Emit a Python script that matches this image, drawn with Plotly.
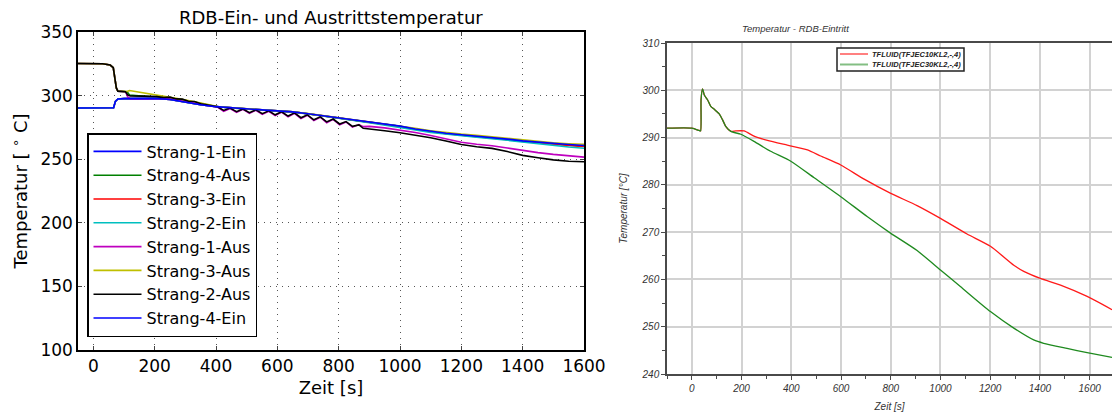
import plotly.graph_objects as go

# ---------------- left panel: RDB inlet / outlet temperatures ----------------
t_ein = [-50, 60, 66, 72, 80, 100, 150, 200, 250, 300, 350, 400, 450, 500, 550,
         600, 650, 700, 750, 800, 850, 900, 950, 1000, 1050, 1100, 1150, 1200,
         1250, 1300, 1350, 1400, 1450, 1500, 1550, 1600]

strang4_ein = [290.3, 290.1, 290.4, 295.5, 297.3, 297.6, 297.8, 297.8, 296.9, 294.8,
               292.8, 291.3, 290.3, 289.6, 288.8, 288.0, 287.2, 285.7, 284.1, 282.4,
               280.8, 279.2, 277.7, 276.0, 273.8, 271.8, 270.4, 269.2, 268.2, 267.1,
               265.8, 264.4, 263.3, 262.4, 261.6, 260.8]
strang1_ein = [290.3, 290.1, 290.4, 295.5, 297.3, 297.6, 297.8, 297.8, 296.9, 294.8,
               292.8, 291.3, 290.3, 289.6, 288.8, 288.0, 287.2, 285.7, 284.1, 282.4,
               280.7, 279.0, 277.5, 275.8, 273.6, 271.6, 270.2, 269.0, 268.0, 266.9,
               265.6, 264.2, 263.1, 262.1, 261.2, 260.4]
strang3_ein = [290.3, 290.1, 290.4, 295.5, 297.3, 297.6, 297.8, 297.8, 296.9, 294.8,
               292.8, 291.3, 290.3, 289.6, 288.8, 288.0, 287.2, 285.7, 284.1, 282.4,
               280.7, 279.0, 277.4, 275.7, 273.5, 271.5, 270.0, 268.8, 267.8, 266.7,
               265.4, 264.0, 262.8, 261.8, 260.9, 260.0]
strang2_ein = [290.3, 290.1, 290.4, 295.5, 297.3, 297.6, 297.8, 297.8, 296.9, 294.8,
               292.8, 291.3, 290.3, 289.6, 288.8, 288.0, 287.2, 285.7, 284.1, 282.4,
               280.5, 278.7, 277.0, 275.2, 273.0, 271.0, 269.6, 268.4, 267.3, 266.2,
               264.8, 263.4, 262.0, 260.8, 259.6, 258.6]

t_aus = [-50, 30, 55, 65, 70, 75, 80, 110, 118, 175, 217, 270, 327, 405, 450, 500,
         550, 600, 650, 700, 750, 800, 850, 900, 950, 1000, 1050, 1100, 1150, 1200,
         1250, 1300, 1350, 1400, 1450, 1500, 1550, 1600]
strang3_aus = [325.2, 325.0, 324.0, 322.0, 314.0, 306.0, 303.5, 303.2, 304.0, 301.8,
               300.0, 297.8, 295.3, 291.4, 290.4, 289.7, 288.9, 288.1, 287.3, 285.8,
               284.2, 282.5, 280.9, 279.4, 278.0, 276.4, 274.3, 272.3, 270.9, 269.7,
               268.7, 267.6, 266.3, 264.9, 263.8, 262.9, 262.2, 261.7]
strang4_aus = [325.2, 325.0, 324.0, 322.0, 314.0, 306.0, 303.5, 303.0, 300.5, 299.5,
               299.0, 297.5, 295.0, 291.2, 290.2, 289.5, 288.7, 287.9, 287.1, 285.6,
               284.0, 282.3, 280.6, 279.0, 277.5, 275.8, 273.6, 271.6, 270.2, 269.0,
               268.0, 266.9, 265.5, 264.1, 263.0, 262.0, 261.0, 260.2]

t_osc = [-50, 30, 55, 65, 70, 75, 80, 105, 112, 120, 160, 208, 230, 250, 270, 290,
         310, 330, 350, 370, 390, 405, 425, 446, 467, 488, 509, 530, 551, 572, 593,
         614, 635, 656, 677, 698, 719, 740, 761, 782, 803, 824, 845, 866, 880, 900,
         950, 1000, 1050, 1100, 1150, 1200, 1250, 1300, 1350, 1400, 1450, 1500,
         1550, 1600]
strang2_aus = [325.2, 325.0, 324.0, 322.0, 314.0, 306.0, 303.5, 303.0, 300.5, 299.8,
               299.6, 299.2, 298.4, 298.8, 297.4, 297.2, 295.6, 295.4, 293.6, 292.8,
               291.6, 291.2, 288.3, 290.2, 287.4, 289.5, 286.6, 288.8, 285.8, 288.0,
               284.9, 287.3, 283.9, 286.4, 282.6, 284.9, 281.0, 283.3, 279.3, 281.6,
               277.7, 279.6, 275.8, 277.0, 274.3, 273.6, 272.3, 270.8, 269.0, 266.8,
               264.3, 261.5, 259.8, 258.5, 256.0, 253.0, 251.2, 249.5, 248.4, 248.0]
strang1_aus = [325.2, 325.0, 324.0, 322.0, 314.0, 306.0, 303.5, 303.0, 299.0, 297.4,
               297.3, 297.8, 297.6, 297.6, 296.8, 296.5, 295.2, 294.6, 293.3, 292.4,
               291.4, 291.0, 287.7, 289.9, 286.8, 289.2, 286.0, 288.5, 285.2, 287.7,
               284.3, 287.0, 283.3, 286.1, 282.0, 284.6, 280.4, 283.0, 278.7, 281.3,
               277.1, 279.3, 275.2, 277.2, 275.6, 275.8, 274.6, 273.0, 271.0, 268.6,
               266.0, 263.3, 261.8, 260.6, 258.8, 256.8, 255.2, 253.8, 252.6, 251.6]

# plotting order: last drawn ends up on top
left_series = [
    ("Strang-1-Ein", t_ein, strang1_ein, "#0000ff"),
    ("Strang-4-Aus", t_aus, strang4_aus, "#008000"),
    ("Strang-3-Ein", t_ein, strang3_ein, "#ff0000"),
    ("Strang-2-Ein", t_ein, strang2_ein, "#00bfbf"),
    ("Strang-1-Aus", t_osc, strang1_aus, "#bf00bf"),
    ("Strang-3-Aus", t_aus, strang3_aus, "#bfbf00"),
    ("Strang-2-Aus", t_osc, strang2_aus, "#000000"),
    ("Strang-4-Ein", t_ein, strang4_ein, "#0000ff"),
]

# ---------------- right panel: RDB inlet, two cases ----------------
t_kl10 = [-100, 0, 29, 35, 37, 43, 50, 63, 76, 90, 110, 123, 137, 157, 177, 210,
          250, 304, 384, 465, 518, 599, 693, 800, 906, 1000, 1107, 1201, 1295,
          1335, 1402, 1483, 1590, 1690]
tfluid_kl10 = [292.0, 292.0, 291.5, 291.4, 298.0, 300.3, 299.0, 298.0, 296.6, 296.0,
               295.0, 293.8, 292.3, 291.3, 291.4, 291.4, 290.3, 289.4, 288.4, 287.4,
               286.1, 284.2, 281.2, 278.2, 275.6, 272.9, 269.6, 267.0, 263.0, 261.7,
               260.2, 258.8, 256.4, 253.6]
t_kl30 = [-100, 0, 29, 35, 37, 43, 50, 63, 76, 90, 110, 123, 137, 157, 197, 250,
          317, 398, 492, 599, 705, 799, 906, 1000, 1080, 1201, 1295, 1375, 1415,
          1509, 1590, 1690]
tfluid_kl30 = [292.0, 292.0, 291.5, 291.4, 298.0, 300.3, 299.0, 298.0, 296.6, 296.0,
               295.0, 293.8, 292.3, 291.3, 290.7, 289.2, 287.1, 285.0, 281.5, 277.5,
               273.3, 269.8, 266.1, 262.0, 258.5, 253.2, 249.7, 247.2, 246.5, 245.4,
               244.5, 243.5]

right_series = [
    ("TFLUID(TFJEC10KL2,-,4)", t_kl10, tfluid_kl10, "#ff1a1a"),
    ("TFLUID(TFJEC30KL2,-,4)", t_kl30, tfluid_kl30, "#1f8a1f"),
]

W, H = 1112, 414
MPL_FONT = "DejaVu Sans"
WIN_FONT = "Liberation Sans"

fig = go.Figure()

for i, (name, t, v, col) in enumerate(left_series):
    fig.add_trace(go.Scatter(
        x=t, y=v, mode="lines", name=name, legendgroup=f"g{i}",
        line=dict(color=col, width=1.6), xaxis="x", yaxis="y",
    ))

for name, t, v, col in right_series:
    fig.add_trace(go.Scatter(
        x=t, y=v, mode="lines", name=name, showlegend=False,
        line=dict(color=col, width=1.3, shape="spline", smoothing=0.6),
        xaxis="x2", yaxis="y2",
    ))


def px_x(p):
    return p / W


def px_y(p):
    return 1 - p / H


left_axis_common = dict(
    showline=True, linecolor="black", linewidth=1.5, mirror="ticks",
    ticks="inside", ticklen=4, tickwidth=1, tickcolor="#444444",
    showgrid=True, gridcolor="#555555", gridwidth=1, griddash="1.2px,4.8px",
    zeroline=False, automargin=False,
    tickfont=dict(family=MPL_FONT, size=17, color="black"),
)
right_axis_common = dict(
    showline=True, linecolor="#4a4a4a", linewidth=1.5,
    ticks="outside", ticklen=4, tickwidth=1, tickcolor="#4a4a4a",
    showgrid=True, gridcolor="#d2d2d2", gridwidth=1.6, zeroline=False,
    automargin=False,
    tickfont=dict(family=WIN_FONT, size=10, color="#333333", style="italic"),
)

fig.update_layout(
    width=W, height=H, margin=dict(l=0, r=0, t=0, b=0, autoexpand=False),
    paper_bgcolor="white", plot_bgcolor="white", showlegend=True,
    xaxis=dict(
        domain=[px_x(78), px_x(584)], range=[-50, 1600], tick0=0, dtick=200,
        anchor="y",
        title=dict(text="Zeit [s]", font=dict(family=MPL_FONT, size=18, color="black"),
                   standoff=6),
        **left_axis_common,
    ),
    yaxis=dict(
        domain=[px_y(350), px_y(32)], range=[100, 350], tick0=100, dtick=50,
        anchor="x",
        title=dict(text="Temperatur [ <sup>∘</sup> C]",
                   font=dict(family=MPL_FONT, size=18, color="black"), standoff=8),
        **left_axis_common,
    ),
    xaxis2=dict(
        domain=[px_x(667), 1.0], range=[-100, 1690], tick0=0, dtick=200,
        anchor="y2", mirror=True,
        minor=dict(dtick=100, ticks="outside", ticklen=3, tickcolor="#4a4a4a",
                   showgrid=False),
        title=dict(text="Zeit [s]",
                   font=dict(family=WIN_FONT, size=10, color="#333333", style="italic"),
                   standoff=10),
        **right_axis_common,
    ),
    yaxis2=dict(
        domain=[px_y(374), px_y(43)], range=[240, 310], tick0=240, dtick=10,
        anchor="x2",
        minor=dict(dtick=5, ticks="outside", ticklen=3, tickcolor="#4a4a4a",
                   showgrid=False),
        title=dict(text="Temperatur [°C]",
                   font=dict(family=WIN_FONT, size=10, color="#333333", style="italic"),
                   standoff=12),
        **right_axis_common,
    ),
    legend=dict(
        x=px_x(87), y=px_y(133), xanchor="left", yanchor="top",
        bgcolor="white", bordercolor="black", borderwidth=1.5,
        font=dict(family=MPL_FONT, size=16, color="black"),
        tracegroupgap=3, itemwidth=48, traceorder="normal",
    ),
)

# panel titles
fig.add_annotation(
    text="RDB-Ein- und Austrittstemperatur", xref="paper", yref="paper",
    x=px_x(331), y=px_y(18), showarrow=False, xanchor="center", yanchor="middle",
    font=dict(family=MPL_FONT, size=18, color="black"),
)
fig.add_annotation(
    text="Temperatur - RDB-Eintritt", xref="paper", yref="paper",
    x=px_x(795), y=px_y(29), showarrow=False, xanchor="center", yanchor="middle",
    font=dict(family=WIN_FONT, size=9.5, color="#333333", style="italic"),
)

# compact legend of the right panel
box = (837, 48, 964, 71)
fig.add_shape(type="rect", xref="paper", yref="paper",
              x0=px_x(box[0]), x1=px_x(box[2]), y0=px_y(box[3]), y1=px_y(box[1]),
              line=dict(color="#222222", width=1.5), fillcolor="white", layer="above")
for k, (name, _, _, col) in enumerate(right_series):
    yk = 54 + 10.5 * k
    fig.add_shape(type="line", xref="paper", yref="paper",
                  x0=px_x(840), x1=px_x(868), y0=px_y(yk), y1=px_y(yk),
                  line=dict(color=col, width=2), opacity=0.55, layer="above")
    fig.add_annotation(
        text="<b><i>" + name + "</i></b>", xref="paper", yref="paper",
        x=px_x(963), y=px_y(yk), showarrow=False, xanchor="right", yanchor="middle",
        font=dict(family=WIN_FONT, size=7.5, color="#222222"),
    )

fig.write_html("out.html")
